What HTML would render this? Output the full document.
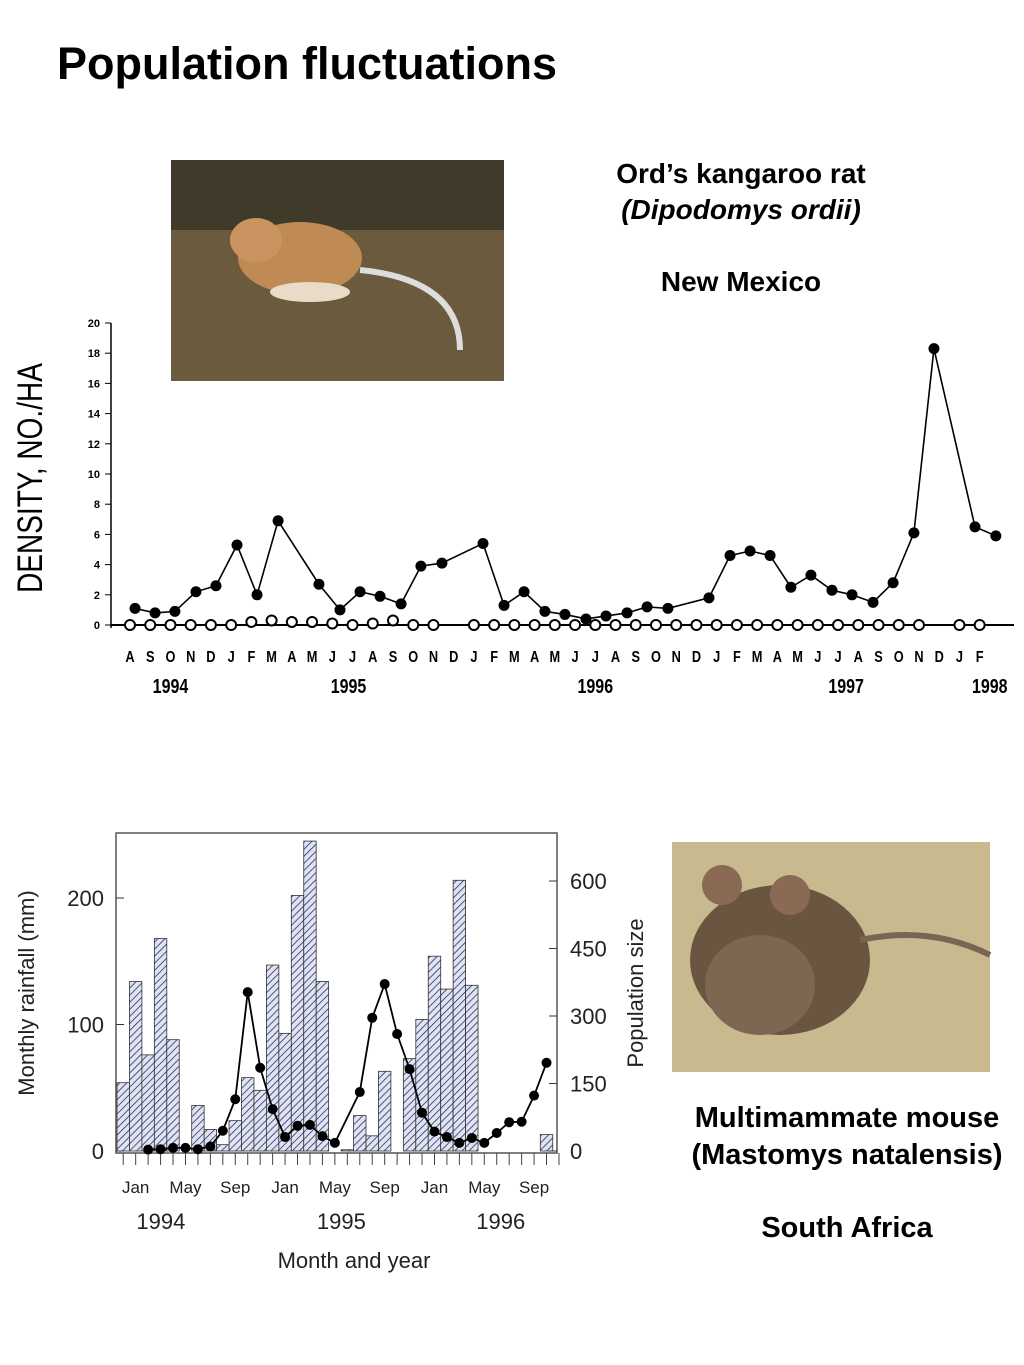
<!DOCTYPE html>
<html><head><meta charset="utf-8">
<style>
body{margin:0;width:1024px;height:1365px;background:#fff;position:relative;overflow:hidden;font-family:"Liberation Sans",sans-serif}
.t{position:absolute;font-weight:bold;color:#000;text-align:center}
svg{position:absolute;left:0;top:0}
</style></head><body>
<div class="t" style="left:57px;top:38px;font-size:45px;text-align:left">Population fluctuations</div>
<div class="t" style="left:561px;top:156px;width:360px;font-size:28px;line-height:36px">Ord’s kangaroo rat<br><i>(Dipodomys ordii)</i><br><br>New Mexico</div>
<div class="t" style="left:667px;top:1100px;width:360px;font-size:29px;line-height:36.5px">Multimammate mouse<br>(Mastomys natalensis)<br><br>South Africa</div>

<svg width="1024" height="1365" id="s" font-family="Liberation Sans, sans-serif">
<defs>
<pattern id="hatch" width="5" height="5" patternUnits="userSpaceOnUse" patternTransform="rotate(45)">
<rect width="5" height="5" fill="#dfe3f3"/><line x1="0" y1="0" x2="0" y2="5" stroke="#2a3358" stroke-width="1.6"/></pattern>
</defs>
<g>
<rect x="171" y="160" width="333" height="221" fill="#6b5a3e"/>
<rect x="171" y="160" width="333" height="70" fill="#3f3a2a"/>
<ellipse cx="300" cy="258" rx="62" ry="36" fill="#c08a55"/>
<ellipse cx="256" cy="240" rx="26" ry="22" fill="#c99460"/>
<path d="M360 270 Q460 280 460 350" stroke="#ddd" stroke-width="6" fill="none"/>
<ellipse cx="310" cy="292" rx="40" ry="10" fill="#e8dcc8"/>
</g>
<g>
<rect x="672" y="842" width="318" height="230" fill="#c9b98f"/>
<ellipse cx="780" cy="960" rx="90" ry="75" fill="#6a5540"/>
<ellipse cx="760" cy="985" rx="55" ry="50" fill="#7e6750"/>
<circle cx="722" cy="885" r="20" fill="#8a6a55"/><circle cx="790" cy="895" r="20" fill="#8a6a55"/>
<path d="M860 940 Q930 925 990 955" stroke="#7a6555" stroke-width="6" fill="none"/>
</g>
<g id="top"></g>
<g id="bot"></g>
</svg>
<script>
// Top chart data: month index since Aug 1994
const topFilledMonths=[0.25,1.24,2.22,3.26,4.25,5.29,6.28,7.32,9.34,10.38,11.37,12.36,13.4,14.38,15.42,17.45,18.49,19.48,20.51,21.5,22.54,23.53,24.57,25.56,26.59,28.62,29.66,30.65,31.64,32.67,33.66,34.7,35.69,36.73,37.72,38.75,39.74,41.77,42.8];
const topFilledDensity=[1.1,0.8,0.9,2.2,2.6,5.3,2.0,6.9,2.7,1.0,2.2,1.9,1.4,3.9,4.1,5.4,1.3,2.2,0.9,0.7,0.4,0.6,0.8,1.2,1.1,1.8,4.6,4.9,4.6,2.5,3.3,2.3,2.0,1.5,2.8,6.1,18.3,6.5,5.9];
const topOpenMonths=[0,1,2,3,4,5,6,7,8,9,10,11,12,13,14,15,17,18,19,20,21,22,23,24,25,26,27,28,29,30,31,32,33,34,35,36,37,38,39,41,42];
const topOpenDensity=[0,0,0,0,0,0,0.2,0.3,0.2,0.2,0.1,0,0.1,0.3,0,0,0,0,0,0,0,0,0,0,0,0,0,0,0,0,0,0,0,0,0,0,0,0,0,0,0];
const topMonthLabels="ASONDJFMAMJJASONDJFMAMJJASONDJFMAMJJASONDJF".split("");
const topYTicks=[0,2,4,6,8,10,12,14,16,18,20];
const topYears=[["1994",2],["1995",10.8],["1996",23],["1997",35.4],["1998",42.5]];
// Bottom chart data: month index starting Dec 1993
const rain=[54,134,76,168,88,0,36,17,5,24,58,48,147,93,202,245,134,0,1,28,12,63,0,73,104,154,128,214,131,0,0,0,0,0,13,0];
const popMonths=[2,3,4,5,6,7,8,9,10,11,12,13,14,15,16,17,19,20,21,22,23,24,25,26,27,28,29,30,31,32,33,34];
const popSize=[3,4,7,7,4,10,45,115,353,185,93,31,56,58,33,18,131,296,371,260,182,85,43,31,18,29,18,40,64,65,123,196];
const rainTicks=[0,100,200];
const popTicks=[0,150,300,450,600];
const botMonthLabels=[[1,"Jan"],[5,"May"],[9,"Sep"],[13,"Jan"],[17,"May"],[21,"Sep"],[25,"Jan"],[29,"May"],[33,"Sep"]];
const botYears=[["1994",3.2],["1995",17.7],["1996",30.5]];

const NS="http://www.w3.org/2000/svg";
function mk(p,tag,a,txt){const e=document.createElementNS(NS,tag);for(const k in a)e.setAttribute(k,a[k]);if(txt!==undefined)e.textContent=txt;p.appendChild(e);return e;}
// top
const T=document.getElementById('top');
const tx=m=>130+m*20.23, ty=v=>625-v*15.1;
mk(T,'line',{x1:111,y1:323,x2:111,y2:628,stroke:'#000','stroke-width':1.5});
mk(T,'line',{x1:111,y1:625,x2:1014,y2:625,stroke:'#000','stroke-width':2});
topYTicks.forEach(v=>{
 const l=mk(T,'line',{x1:105,y1:ty(v),x2:111,y2:ty(v),stroke:'#000'});
 
 
 const t=mk(T,'text',{x:100,y:ty(v)+4,'text-anchor':'end','font-size':11,'font-weight':'bold'},v);
 
 
});
const yt=mk(T,'text',{x:0,y:0,transform:'translate(42,478) rotate(-90) scale(0.8,1)','text-anchor':'middle','font-size':35},'DENSITY, NO./HA');


topMonthLabels.forEach((c,i)=>{
 const t=mk(T,'text',{x:0,y:0,transform:`translate(${tx(i)},662) scale(0.8,1)`,'text-anchor':'middle','font-size':16,'font-weight':'bold'},c);
 
 
});
topYears.forEach(([y,m])=>{
 const t=mk(T,'text',{x:0,y:0,transform:`translate(${tx(m)},693) scale(0.8,1)`,'text-anchor':'middle','font-size':20,'font-weight':'bold'},y);
 
 
});
topOpenMonths.forEach((m,i)=>{
 const c=mk(T,'circle',{cx:tx(m),cy:ty(topOpenDensity[i]),r:5,fill:'#fff',stroke:'#000','stroke-width':2});
 
 
});
let d='';topFilledMonths.forEach((m,i)=>{d+=(i?'L':'M')+tx(m)+' '+ty(topFilledDensity[i]);});
const pl=mk(T,'path',{d:d,fill:'none',stroke:'#000','stroke-width':1.6});


topFilledMonths.forEach((m,i)=>{
 const c=mk(T,'circle',{cx:tx(m),cy:ty(topFilledDensity[i]),r:5.5,fill:'#000'});
 
 
});
// bottom
const B=document.getElementById('bot');
const bw=12.45, bx=i=>117+i*bw, ry=v=>1151-v*1.265, py=v=>1151-v*0.45;
mk(B,'rect',{x:116,y:833,width:441,height:320,fill:'none',stroke:'#555','stroke-width':1.5});
rain.forEach((v,i)=>{ if(v<=0)return;
 const r=mk(B,'rect',{x:bx(i),y:ry(v),width:bw,height:v*1.265,fill:'url(#hatch)',stroke:'#333','stroke-width':0.8});
 
 
});
rainTicks.forEach(v=>{
 mk(B,'line',{x1:116,y1:ry(v),x2:124,y2:ry(v),stroke:'#333'});
 const t=mk(B,'text',{x:104,y:ry(v)+8,'text-anchor':'end','font-size':22,fill:'#222'},v);
 
 
});
popTicks.forEach(v=>{
 mk(B,'line',{x1:549,y1:py(v),x2:557,y2:py(v),stroke:'#333'});
 const t=mk(B,'text',{x:570,y:py(v)+8,'font-size':22,fill:'#222'},v);
 
 
});
for(let i=0;i<36;i++){mk(B,'line',{x1:bx(i)+bw/2,y1:1153,x2:bx(i)+bw/2,y2:1165,stroke:'#444'});}
botMonthLabels.forEach(([m,l])=>{
 const t=mk(B,'text',{x:bx(m)+bw/2,y:1193,'text-anchor':'middle','font-size':17,fill:'#222'},l);
 
 
});
botYears.forEach(([y,m])=>{
 const t=mk(B,'text',{x:bx(m)+4,y:1229,'text-anchor':'middle','font-size':22,fill:'#222'},y);
 
 
});
const xt=mk(B,'text',{x:354,y:1268,'text-anchor':'middle','font-size':22,fill:'#222'},'Month and year');


const lt=mk(B,'text',{x:0,y:0,transform:'translate(34,993) rotate(-90)','text-anchor':'middle','font-size':22,fill:'#222'},'Monthly rainfall (mm)');


const rt=mk(B,'text',{x:0,y:0,transform:'translate(643,993) rotate(-90)','text-anchor':'middle','font-size':22,fill:'#222'},'Population size');


let d2='';popMonths.forEach((m,i)=>{d2+=(i?'L':'M')+(bx(m)+bw/2)+' '+py(popSize[i]);});
const p2=mk(B,'path',{d:d2,fill:'none',stroke:'#000','stroke-width':1.8});


popMonths.forEach((m,i)=>{
 const c=mk(B,'circle',{cx:bx(m)+bw/2,cy:py(popSize[i]),r:5,fill:'#000'});
 
 
});
</script>
</body></html>
